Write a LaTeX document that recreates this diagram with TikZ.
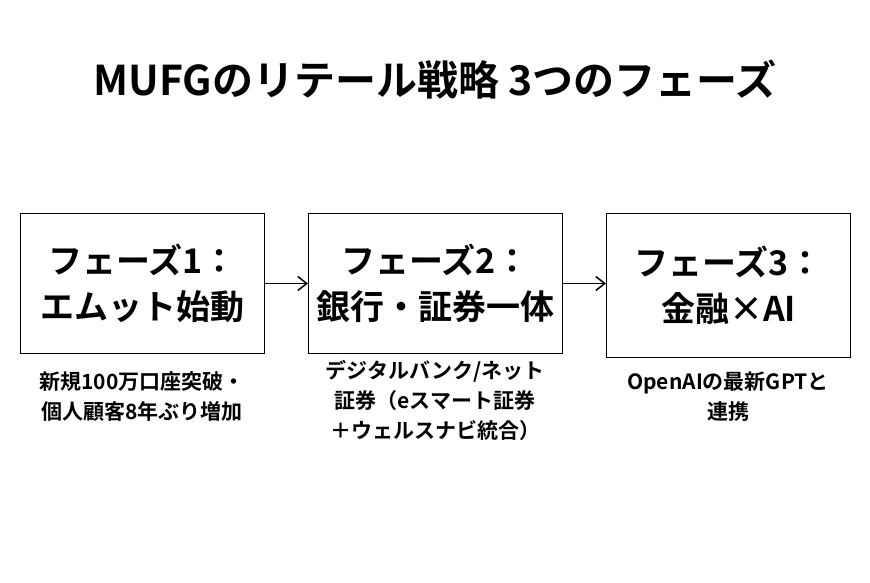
\documentclass[tikz,border=0pt]{standalone}
\usepackage{fontspec}
\usetikzlibrary{arrows.meta}
\setmainfont{Noto Sans CJK JP}[BoldFont={Noto Sans CJK JP Bold}]
\begin{document}
\begin{tikzpicture}[x=1pt,y=-1pt,
 box/.style={draw,line width=1pt,minimum width=244pt,minimum height=140pt,anchor=north west,align=center,font=\fontsize{34}{46}\selectfont\bfseries},
 lab/.style={align=center,font=\fontsize{21}{30}\selectfont\bfseries},
 arr/.style={-{Straight Barb[length=9pt,width=14pt,line width=1.5pt]},line width=1.5pt}]
\useasboundingbox (0,0) rectangle (870,583);
\node[font=\fontsize{41}{46}\selectfont\bfseries] (t) at (435,80) {MUFGのリテール戦略 3つのフェーズ};
\node[box] (b1) at (20,213) {フェーズ1：\\エムット始動};
\node[box,minimum width=254pt] (b2) at (308,213) {フェーズ2：\\銀行・証券一体};
\node[box,minimum height=144pt] (b3) at (606,213) {フェーズ3：\\金融×AI};
\draw[arr] (b1.east) -- (b2.west);
\draw[arr] (b2.east) -- (b3.west |- b2.east);
\node[lab] (l1) at (142,397) {新規100万口座突破・\\個人顧客8年ぶり増加};
\node[lab] (l2) at (435,400) {デジタルバンク/ネット\\証券（eスマート証券\\＋ウェルスナビ統合）};
\node[lab] (l3) at (728,397) {OpenAIの最新GPTと\\連携};
\end{tikzpicture}
\end{document}
